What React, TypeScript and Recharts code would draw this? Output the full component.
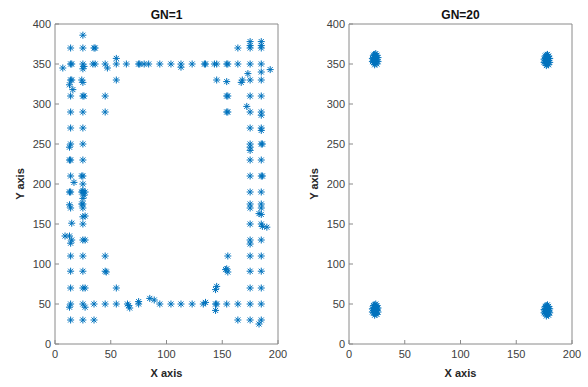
import React from 'react';
import { ScatterChart, Scatter, XAxis, YAxis } from 'recharts';

type Pt = [number, number];

// GN=1 — sensor positions
const topEdge: Pt[] = [
  [25, 386],
  [14, 370], [25, 370], [35, 370], [36, 370],
  [7, 345], [14, 350], [15, 350], [25, 350], [26, 347], [25, 344], [34, 350], [36, 350],
  [45, 350], [47, 345], [55, 350], [55, 357], [64, 350], [75, 350], [76, 350], [80, 350],
  [84, 350], [94, 350], [104, 350], [113, 350], [113, 346], [123, 350], [134, 350], [135, 350],
  [143, 350], [145, 350], [154, 350], [155, 350], [164, 350], [175, 350], [185, 350], [193, 343],
  [164, 370], [175, 373], [175, 378], [175, 370], [185, 378], [185, 373], [185, 370],
  [14, 330], [15, 330], [24, 330], [25, 327], [55, 330], [145, 330], [154, 328], [167, 327],
  [168, 330], [173, 338], [175, 330], [185, 330], [185, 340],
  [13, 324], [16, 318],
  [14, 310], [25, 310], [26, 310], [45, 310], [154, 310], [155, 310], [175, 310], [185, 310],
  [14, 290], [25, 290], [45, 290], [154, 290], [155, 290], [172, 297], [175, 290], [185, 290], [185, 286],
];

const sideEdges: Pt[] = [
  [14, 270], [25, 270], [175, 270], [185, 270], [185, 267],
  [14, 250], [13, 246], [25, 250], [175, 250], [175, 246], [175, 242], [185, 250], [186, 250],
  [14, 230], [13, 230], [25, 230], [175, 230], [185, 230],
  [14, 210], [24, 210], [25, 210], [17, 202], [175, 210], [185, 210], [186, 210],
  [25, 200],
  [13, 190], [14, 190], [24, 190], [25, 190], [27, 190], [175, 190], [185, 190],
  [25, 192], [25, 182], [26, 186],
  [13, 174], [14, 170], [24, 175], [25, 175], [25, 170], [175, 175], [175, 170], [185, 175],
  [185, 170], [183, 163], [185, 162],
  [25, 159], [27, 160],
  [15, 151], [25, 150], [175, 150], [185, 150], [186, 147], [190, 146],
  [9, 135], [13, 135], [15, 130], [14, 126], [25, 130], [27, 130], [175, 130], [175, 125], [185, 130],
  [14, 110], [25, 110], [45, 110], [155, 110], [175, 110], [185, 110],
  [14, 91], [25, 91], [45, 91], [46, 90], [154, 94], [155, 90], [153, 93], [175, 91], [185, 91],
  [14, 70], [25, 70], [27, 70], [55, 70], [145, 72], [144, 68], [175, 70], [185, 70],
];

const bottomEdge: Pt[] = [
  [14, 50], [13, 46], [25, 50], [27, 46], [35, 50], [45, 50], [55, 50], [65, 50], [66, 48],
  [67, 45], [75, 53], [75, 50], [85, 57], [89, 55], [94, 50], [104, 50], [113, 50], [123, 50],
  [133, 50], [135, 52], [144, 50], [145, 50], [144, 42], [154, 50], [164, 50], [175, 50], [185, 50],
  [14, 30], [25, 30], [35, 30], [164, 30], [175, 30], [185, 30], [183, 25],
];

// GN=20 — four tight clusters
const clusterTL: Pt[] = [
  [23, 356], [22, 352], [24, 360], [25, 355], [21, 357], [26, 358], [23, 349], [24, 363],
  [22, 361], [25, 350], [23, 354], [24, 357], [21, 353], [26, 353], [22, 358], [25, 361],
  [23, 362], [24, 351], [22, 355], [25, 358],
];
const clusterTR: Pt[] = [
  [177, 355], [176, 351], [178, 359], [179, 354], [175, 356], [180, 357], [177, 348], [178, 362],
  [176, 360], [179, 349], [177, 353], [178, 356], [175, 352], [180, 352], [176, 357], [179, 360],
  [177, 361], [178, 350], [176, 354], [179, 357],
];
const clusterBL: Pt[] = [
  [23, 43], [22, 39], [24, 47], [25, 42], [21, 44], [26, 45], [23, 36], [24, 50],
  [22, 48], [25, 37], [23, 41], [24, 44], [21, 40], [26, 40], [22, 45], [25, 48],
  [23, 49], [24, 38], [22, 42], [25, 45],
];
const clusterBR: Pt[] = [
  [177, 42], [176, 38], [178, 46], [179, 41], [175, 43], [180, 44], [177, 35], [178, 49],
  [176, 47], [179, 36], [177, 40], [178, 43], [175, 39], [180, 39], [176, 44], [179, 47],
  [177, 48], [178, 37], [176, 41], [179, 44],
];

const xTicks = [0, 50, 100, 150, 200];
const yTicks = [0, 50, 100, 150, 200, 250, 300, 350, 400];

const BLUE = '#0072BD';
const AXIS = '#8a8a8a';
const FONT = '"Liberation Sans", Arial, Helvetica, sans-serif';

const toRows = (pts: Pt[]) => pts.map(([x, y]) => ({ x, y }));

const Asterisk = (props: any) => {
  const { cx, cy } = props;
  if (cx == null || cy == null) return null;
  const r = 3.5;
  const d = 2.5;
  return (
    <g stroke={BLUE} strokeWidth={1}>
      <line x1={cx - r} y1={cy} x2={cx + r} y2={cy} />
      <line x1={cx} y1={cy - r} x2={cx} y2={cy + r} />
      <line x1={cx - d} y1={cy - d} x2={cx + d} y2={cy + d} />
      <line x1={cx - d} y1={cy + d} x2={cx + d} y2={cy - d} />
    </g>
  );
};

const tickStyle = { fontSize: 11, fill: '#404040', fontFamily: FONT };

const Panel = ({ title, left, data }: { title: string; left: number; data: Pt[] }) => (
  <div style={{ position: 'absolute', left, top: 0, width: 294, height: 387 }}>
    <div
      style={{
        position: 'absolute', left: 55, width: 223, top: 8, textAlign: 'center',
        fontFamily: FONT, fontWeight: 'bold', fontSize: 12, color: '#111',
      }}
    >
      {title}
    </div>
    <ScatterChart width={294} height={387} margin={{ top: 23, right: 15, bottom: 13, left: 15 }}>
      <XAxis
        type="number" dataKey="x" xAxisId="b" domain={[0, 200]} ticks={xTicks} height={30}
        stroke={AXIS} tickSize={-4} tickMargin={10} tick={tickStyle}
        label={{ value: 'X axis', position: 'bottom', offset: -5, style: { fontSize: 11, fontWeight: 'bold', fill: '#262626', fontFamily: FONT } }}
      />
      <XAxis
        type="number" xAxisId="t" orientation="top" domain={[0, 200]} ticks={xTicks} height={1}
        stroke={AXIS} tickSize={-4} tick={false}
      />
      <YAxis
        type="number" dataKey="y" yAxisId="l" domain={[0, 400]} ticks={yTicks} width={40}
        stroke={AXIS} tickSize={-4} tickMargin={8} tick={tickStyle}
        label={{ value: 'Y axis', angle: -90, position: 'insideLeft', offset: 5, style: { textAnchor: 'middle', fontSize: 11, fontWeight: 'bold', fill: '#262626', fontFamily: FONT } }}
      />
      <YAxis
        type="number" yAxisId="r" orientation="right" domain={[0, 400]} ticks={yTicks} width={1}
        stroke={AXIS} tickSize={-4} tick={false}
      />
      <Scatter data={toRows(data)} xAxisId="b" yAxisId="l" shape={Asterisk} isAnimationActive={false} />
    </ScatterChart>
  </div>
);

export default function App() {
  const gn1 = [...topEdge, ...sideEdges, ...bottomEdge];
  const gn20 = [...clusterTL, ...clusterTR, ...clusterBL, ...clusterBR];
  return (
    <div style={{ position: 'absolute', left: 0, top: 0, width: 588, height: 387, background: '#fff' }}>
      <Panel title="GN=1" left={0} data={gn1} />
      <Panel title="GN=20" left={294} data={gn20} />
    </div>
  );
}
